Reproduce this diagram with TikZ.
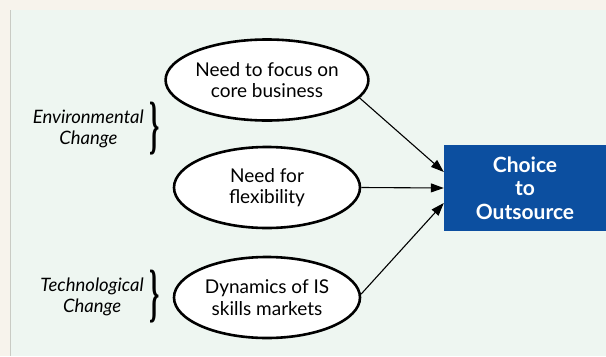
\documentclass[tikz,border=0pt]{standalone}
\usepackage{fontspec}
\usepackage{graphicx}
\setmainfont{Lato}
\newfontfamily\bracefont{Liberation Serif}
\usetikzlibrary{arrows.meta,shapes.geometric}
\definecolor{pagecream}{HTML}{F7F3EC}
\definecolor{panelmint}{HTML}{EEF6F1}
\definecolor{panelrule}{HTML}{C9CBC4}
\definecolor{choiceblue}{HTML}{0C4FA0}
\begin{document}
\begin{tikzpicture}[x=1pt,y=-1pt,
  factor/.style={ellipse, draw=black, line width=2.6pt, fill=white,
    minimum width=186pt, minimum height=81pt, inner sep=0pt,
    align=center, font=\fontsize{19}{21.5}\selectfont},
  outcome/.style={rectangle, fill=choiceblue, text=white,
    minimum width=162pt, minimum height=86pt, inner sep=0pt,
    align=center, font=\fontsize{21}{23.5}\selectfont\bfseries},
  driver/.style={anchor=east, align=center, inner sep=0pt,
    font=\fontsize{18.5}{21}\selectfont\itshape},
  grouping/.style={inner sep=0pt, font=\bracefont\bfseries},
  link/.style={-{Triangle[length=13pt,width=9pt]}, line width=1.1pt}
]
% page and panel
\fill[pagecream] (0,0) rectangle (606,356);
\fill[panelmint] (11,10) rectangle (606,356);
\draw[panelrule, line width=1pt] (10.5,10) -- (10.5,356);
\useasboundingbox (0,0) rectangle (606,356);

% drivers of outsourcing
\node[factor] (focus) at (267,80)    {Need to focus on\\core business};
\node[factor] (flex)  at (267,187.5) {Need for\\flexibility};
\node[factor] (skills) at (267,297.5) {Dynamics of IS\\skills markets};

% outcome
\node[outcome] (choice) at (525,188) {Choice\\to\\Outsource};

% groupings on the left
\node[driver] (env)  at (144,129) {Environmental\\Change};
\node[driver] (tech) at (144,297) {Technological\\Change};
\node[grouping] (envbrace)  at (155,128.5) {\scalebox{2.6}[6.4]{\}}};
\node[grouping] (techbrace) at (155,297)   {\scalebox{2.6}[6.4]{\}}};

% influences
\draw[link] (focus.-11) -- ([yshift=16pt]choice.west);
\draw[link] (flex.east) -- (choice.west);
\draw[link] (skills.2) -- ([yshift=-15pt]choice.west);
\end{tikzpicture}
\end{document}
